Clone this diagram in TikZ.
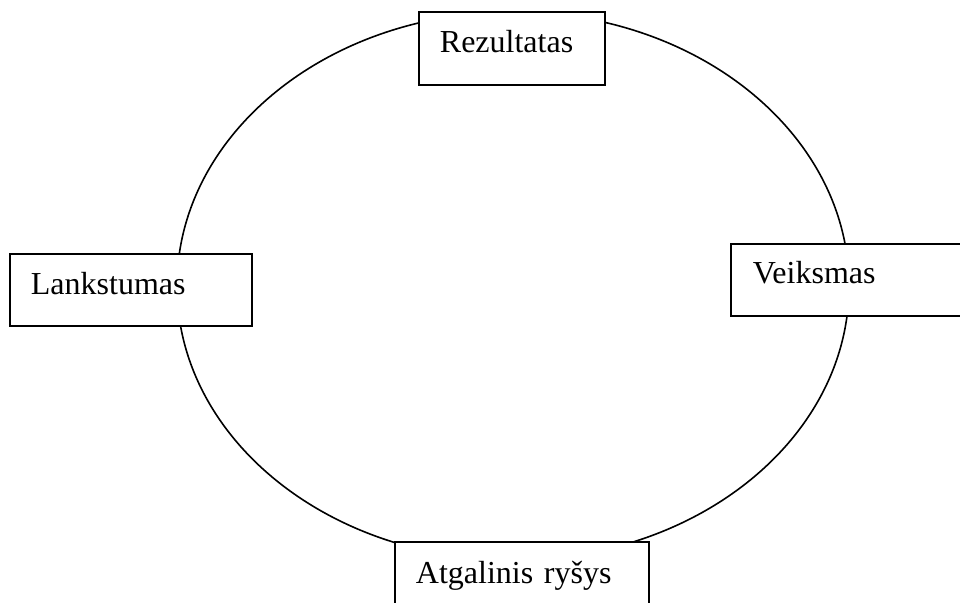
\documentclass[tikz,border=0pt]{standalone}
\usepackage{fontspec}
\setmainfont{Liberation Serif}
\begin{document}
\begin{tikzpicture}[x=1pt,y=-1pt,
  term/.style={draw, fill=white, line width=1.8pt, anchor=north west,
    inner ysep=0pt, inner xsep=21pt, align=left,
    font=\fontsize{32}{36}\selectfont}]
\useasboundingbox (0,0) rectangle (960,602);
\clip (0,0) rectangle (960,602);
% the cycle
\draw[line width=1.6pt] (513,286) ellipse [x radius=336, y radius=274];
% stages placed on the cycle
\node[term, text width=144pt, text height=41pt, text depth=32pt] (res) at (418,11) {Rezultatas};
\node[term, text width=200pt, text height=41pt, text depth=31pt] (lank) at (9,253) {Lankstumas};
\node[term, inner xsep=22pt, text width=200pt, text height=40pt, text depth=32pt] (veik) at (730,243) {Veiksmas};
\node[term, text width=212pt, text height=42pt, text depth=40pt] (atg) at (394,541) {Atgalinis ryšys};
\end{tikzpicture}
\end{document}
